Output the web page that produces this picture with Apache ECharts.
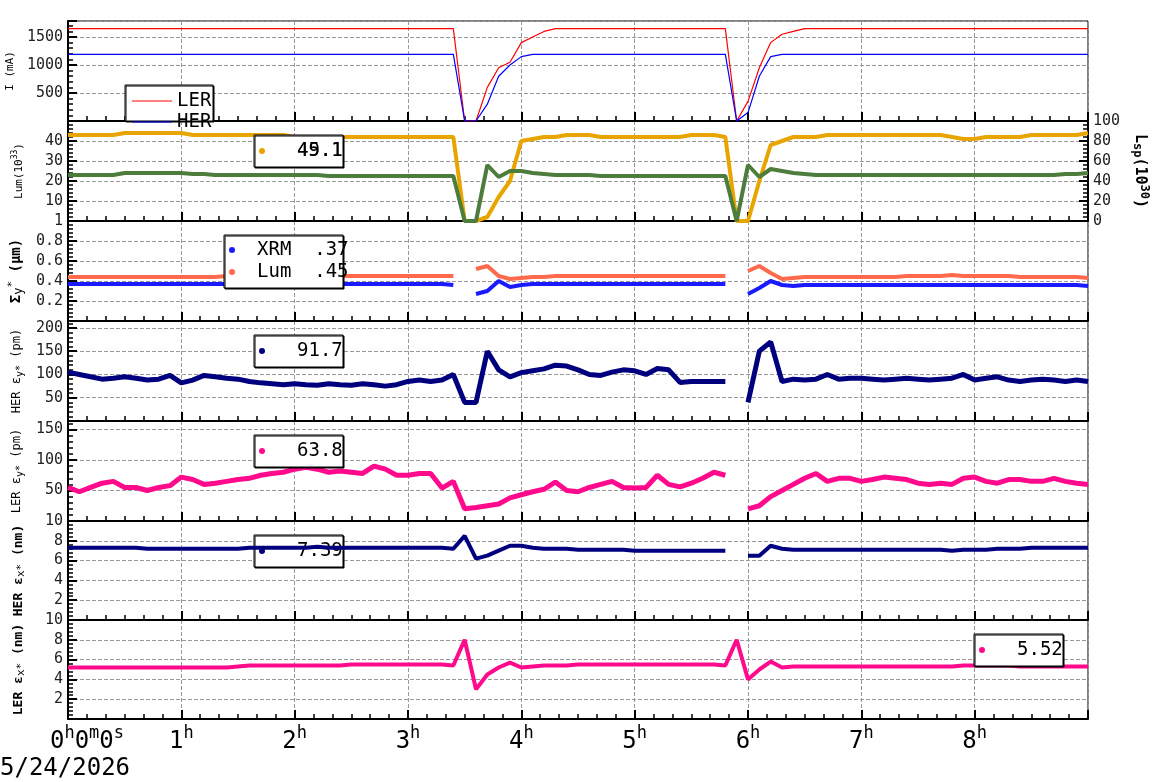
<!DOCTYPE html>
<html>
<head>
<meta charset="utf-8">
<script src="https://cdn.jsdelivr.net/npm/echarts@6/dist/echarts.min.js"></script>
<style>
  html, body { margin: 0; padding: 0; background: #fff; }
  #chart { width: 1160px; height: 782px; }
</style>
</head>
<body>
<div id="chart"></div>
<script>
// time grid, hours from start, one sample every 0.1 h
var hours = Array.from({length: 91}, function (_, i) { return i / 10; });

// beam currents (mA)
var lerCurrent = [
  1650,1650,1650,1650,1650,1650,1650,1650,1650,1650,
  1650,1650,1650,1650,1650,1650,1650,1650,1650,1650,
  1650,1650,1650,1650,1650,1650,1650,1650,1650,1650,
  1650,1650,1650,1650,1650,0,0,600,950,1050,
  1400,1500,1600,1650,1650,1650,1650,1650,1650,1650,
  1650,1650,1650,1650,1650,1650,1650,1650,1650,0,
  350,950,1400,1550,1600,1650,1650,1650,1650,1650,
  1650,1650,1650,1650,1650,1650,1650,1650,1650,1650,
  1650,1650,1650,1650,1650,1650,1650,1650,1650,1650,
  1650];
var herCurrent = [
  1190,1190,1190,1190,1190,1190,1190,1190,1190,1190,
  1190,1190,1190,1190,1190,1190,1190,1190,1190,1190,
  1190,1190,1190,1190,1190,1190,1190,1190,1190,1190,
  1190,1190,1190,1190,1190,0,0,300,800,1000,
  1150,1190,1190,1190,1190,1190,1190,1190,1190,1190,
  1190,1190,1190,1190,1190,1190,1190,1190,1190,0,
  150,800,1150,1190,1190,1190,1190,1190,1190,1190,
  1190,1190,1190,1190,1190,1190,1190,1190,1190,1190,
  1190,1190,1190,1190,1190,1190,1190,1190,1190,1190,
  1190];

// luminosity (1e33) and specific luminosity drawn on the left scale
var lum = [
  43,43,43,43,43,44,44,44,44,44,
  44,43,43,43,43,43,43,43,43,43,
  42,42,42,42,42,42,42,42,42,42,
  42,42,42,42,42,0,0,2,12,20,
  40,41,42,42,43,43,43,42,42,42,
  42,42,42,42,42,43,43,43,42,0,
  0,20,38,40,42,42,42,43,43,43,
  43,43,43,43,43,43,43,43,42,41,
  41,42,42,42,42,43,43,43,43,43,
  44];
var lsp = [
  23,23,23,23,23,24,24,24,24,24,
  24,23.5,23.5,23,23,23,23,23,23,23,
  23,23,23,22.5,22.5,22.5,22.5,22.5,22.5,22.5,
  22.5,22.5,22.5,22.5,22.5,0,0,28,22,25,
  25,24,23.5,23,23,23,23,22.5,22.5,22.5,
  22.5,22.5,22.5,22.5,22.5,22.5,22.5,22.5,22.5,0,
  28,22,26,25,24,23.5,23,23,23,23,
  23,23,23,23,23,23,23,23,23,23,
  23,23,23,23,23,23,23,23,23.5,23.5,
  24];

// vertical beam size (um)
var sigXrm = [
  .37,.37,.37,.37,.37,.37,.37,.37,.37,.37,
  .37,.37,.37,.37,.37,.37,.37,.37,.37,.37,
  .37,.37,.37,.37,.37,.37,.37,.37,.37,.37,
  .37,.37,.37,.37,.36,null,.27,.30,.40,.34,
  .36,.37,.37,.37,.37,.37,.37,.37,.37,.37,
  .37,.37,.37,.37,.37,.37,.37,.37,.37,null,
  .27,.33,.40,.36,.35,.36,.36,.36,.36,.36,
  .36,.36,.36,.36,.36,.36,.36,.36,.36,.36,
  .36,.36,.36,.36,.36,.36,.36,.36,.36,.36,
  .35];
var sigLum = [
  .44,.44,.44,.44,.44,.44,.44,.44,.44,.44,
  .44,.44,.44,.44,.45,.45,.45,.45,.45,.45,
  .45,.45,.45,.45,.45,.45,.45,.45,.45,.45,
  .45,.45,.45,.45,.45,null,.52,.55,.45,.42,
  .43,.44,.44,.45,.45,.45,.45,.45,.45,.45,
  .45,.45,.45,.45,.45,.45,.45,.45,.45,null,
  .50,.55,.48,.42,.43,.44,.44,.44,.44,.44,
  .44,.44,.44,.44,.45,.45,.45,.45,.46,.45,
  .45,.45,.45,.45,.44,.44,.44,.44,.44,.44,
  .43];

// vertical emittance (pm)
var herEy = [
  105,100,95,90,92,95,92,88,90,98,
  82,88,98,95,92,90,85,82,80,78,
  80,78,77,80,78,77,80,78,75,78,
  85,88,85,88,100,40,40,150,110,95,
  104,108,112,120,118,110,100,98,105,110,
  108,100,113,110,83,85,85,85,85,null,
  40,150,170,85,90,88,90,100,90,92,
  92,90,88,90,92,90,88,90,92,100,
  88,92,95,88,85,88,90,88,85,88,
  85];
var lerEy = [
  55,48,55,62,65,55,55,50,55,58,
  72,68,60,62,65,68,70,75,78,80,
  85,88,85,80,82,80,78,90,85,75,
  75,78,78,54,65,20,22,25,28,38,
  43,48,52,64,50,48,55,60,65,55,
  54,55,75,60,56,62,70,80,75,null,
  20,25,40,50,60,70,78,65,70,70,
  65,68,72,70,68,62,60,62,60,70,
  72,65,62,68,68,65,65,70,65,62,
  60];

// horizontal emittance (nm)
var herEx = [
  7.3,7.3,7.3,7.3,7.3,7.3,7.3,7.2,7.2,7.2,
  7.2,7.2,7.2,7.2,7.2,7.2,7.3,7.3,7.3,7.3,
  7.3,7.3,7.4,7.3,7.3,7.3,7.3,7.3,7.3,7.3,
  7.3,7.3,7.3,7.3,7.2,8.5,6.2,6.5,7.0,7.5,
  7.5,7.3,7.2,7.2,7.2,7.1,7.1,7.1,7.1,7.1,
  7.0,7.0,7.0,7.0,7.0,7.0,7.0,7.0,7.0,null,
  6.5,6.5,7.5,7.2,7.1,7.1,7.1,7.1,7.1,7.1,
  7.1,7.1,7.1,7.1,7.1,7.1,7.1,7.1,7.0,7.1,
  7.1,7.1,7.2,7.2,7.2,7.3,7.3,7.3,7.3,7.3,
  7.3];
var lerEx = [
  5.2,5.2,5.2,5.2,5.2,5.2,5.2,5.2,5.2,5.2,
  5.2,5.2,5.2,5.2,5.2,5.3,5.4,5.4,5.4,5.4,
  5.4,5.4,5.4,5.4,5.4,5.5,5.5,5.5,5.5,5.5,
  5.5,5.5,5.5,5.5,5.4,8.0,3.0,4.5,5.2,5.7,
  5.2,5.3,5.4,5.4,5.4,5.5,5.5,5.5,5.5,5.5,
  5.5,5.5,5.5,5.5,5.5,5.5,5.5,5.5,5.4,8.0,
  4.0,5.0,5.8,5.2,5.3,5.3,5.3,5.3,5.3,5.3,
  5.3,5.3,5.3,5.3,5.3,5.3,5.3,5.3,5.3,5.4,
  5.4,5.4,5.4,5.4,5.3,5.3,5.3,5.3,5.3,5.3,
  5.3];

var mono = 'DejaVu Sans Mono';
var panels = [
  {top: 21,  h: 100, min: 0, max: 1786, step: 500, name: 'I (mA)', nameSize: 11, showMax: false},
  {top: 121, h: 100, min: 0, max: 50, step: 10, name: '{n|Lum(10}{sup|33}{n|)}', nameSize: 11, showMax: false},
  {top: 221, h: 100, min: 0, max: 1, step: 0.2, name: '{b|Σ}{sub|y}{sup|*}{b| (μm)}', nameSize: 14, showMax: true},
  {top: 321, h: 100, min: 0, max: 215, step: 50, name: '{n|HER ε}{sub|y*}{n| (pm)}', nameSize: 12, showMax: false},
  {top: 421, h: 100, min: 0, max: 164, step: 50, name: '{n|LER ε}{sub|y*}{n| (pm)}', nameSize: 12, showMax: false},
  {top: 521, h: 99,  min: 0, max: 10, step: 2, name: '{b|HER ε}{sub|x*}{b| (nm)}', nameSize: 13, showMax: true},
  {top: 620, h: 99,  min: 0, max: 10, step: 2, name: '{b|LER ε}{sub|x*}{b| (nm)}', nameSize: 13, showMax: true}
];

var grids = [], xAxes = [], yAxes = [];
panels.forEach(function (p, i) {
  var last = i === panels.length - 1;
  grids.push({left: 68, right: 72, top: p.top, height: p.h, show: true, borderColor: '#000', borderWidth: 1,
    containLabel: false, outerBoundsMode: 'none'});
  xAxes.push({
    gridIndex: i, type: 'value', min: 0, max: 9, interval: 1,
    axisLine: {show: true, lineStyle: {color: '#000', width: 2}},
    axisTick: {inside: true, length: 9, lineStyle: {color: '#000', width: 2}},
    minorTick: {show: true, splitNumber: 6, length: 5, lineStyle: {color: '#000', width: 1.5}},
    splitLine: {show: true, lineStyle: {color: '#999', type: 'dashed'}},
    axisLabel: {
      show: last, showMaxLabel: false, margin: 6, fontFamily: mono, fontSize: 24, color: '#000',
      formatter: function (v) {
        if (v === 0) return '{p|}{b|0}{s|h}{b|0}{s|m}{b|0}{s|s}';
        return '{b|' + v + '}{s|h}';
      },
      rich: {
        p: {width: 38},
        b: {fontFamily: mono, fontSize: 24, color: '#000', verticalAlign: 'bottom'},
        s: {fontFamily: mono, fontSize: 17, color: '#000', verticalAlign: 'top', padding: [0, 0, 12, 0]}
      }
    }
  });
  var nr = {
    n: {fontFamily: mono, fontSize: p.nameSize, color: '#000'},
    b: {fontFamily: mono, fontSize: p.nameSize, fontWeight: 'bold', color: '#000'},
    sup: {fontFamily: mono, fontSize: p.nameSize - 3, color: '#000', padding: [0, 0, 8, 0]},
    sub: {fontFamily: mono, fontSize: p.nameSize - 2, color: '#000', padding: [6, 0, 0, 0]}
  };
  yAxes.push({
    gridIndex: i, type: 'value', min: p.min, max: p.max, interval: p.step,
    name: p.name, nameLocation: 'middle', nameGap: 41, nameRotate: 90,
    nameTextStyle: {fontFamily: mono, fontSize: p.nameSize, color: '#000', rich: nr},
    axisLine: {show: true, lineStyle: {color: '#000', width: 2}},
    axisTick: {inside: true, length: 9, lineStyle: {color: '#000', width: 2}},
    minorTick: {show: true, splitNumber: 5, length: 5, lineStyle: {color: '#000', width: 1.5}},
    splitLine: {show: true, lineStyle: {color: '#999', type: 'dashed'}},
    axisLabel: {showMinLabel: false, showMaxLabel: p.showMax, fontFamily: mono, fontSize: 15, color: '#222', margin: 5,
      formatter: function (v) { return String(Math.round(v * 10) / 10); }}
  });
});
// right axis for specific luminosity
yAxes.push({
  gridIndex: 1, type: 'value', position: 'right', min: 0, max: 100, interval: 20,
  name: '{b|L}{sub|sp}{b|(10}{sup|30}{b|)}', nameLocation: 'middle', nameGap: 42, nameRotate: -90,
  nameTextStyle: {rich: {
    b: {fontFamily: mono, fontSize: 15, fontWeight: 'bold', color: '#000'},
    sub: {fontFamily: mono, fontSize: 12, fontWeight: 'bold', color: '#000', padding: [6, 0, 0, 0]},
    sup: {fontFamily: mono, fontSize: 12, fontWeight: 'bold', color: '#000', padding: [0, 0, 8, 0]}
  }},
  axisLine: {show: true, lineStyle: {color: '#000', width: 2}},
  axisTick: {inside: true, length: 9, lineStyle: {color: '#000', width: 2}},
  minorTick: {show: true, splitNumber: 5, length: 5, lineStyle: {color: '#000', width: 1.5}},
  splitLine: {show: false},
  axisLabel: {fontFamily: mono, fontSize: 15, color: '#222', margin: 5}
});

function pairs(vals) {
  return hours.map(function (t, i) { return [t, vals[i]]; });
}
function band(name, g, yi, vals, color, w) {
  return {
    name: name, type: 'line', xAxisIndex: g, yAxisIndex: yi, data: pairs(vals),
    showSymbol: false, connectNulls: false, silent: true,
    lineStyle: {color: color, width: w}, z: 3
  };
}

var series = [
  band('LER', 0, 0, lerCurrent, '#ff0000', 1.2),
  band('HER', 0, 0, herCurrent, '#0000ff', 1.2),
  band('Lum', 1, 1, lum, '#e8a500', 4),
  band('Lsp', 1, 1, lsp, '#4c7d3c', 4),
  band('XRM', 2, 2, sigXrm, '#1a1aff', 4),
  band('LumSize', 2, 2, sigLum, '#ff6a4d', 4),
  band('HERey', 3, 3, herEy, '#00007f', 5),
  band('LERey', 4, 4, lerEy, '#ff0a8c', 5),
  band('HERex', 5, 5, herEx, '#00007f', 4),
  band('LERex', 6, 6, lerEx, '#ff0a8c', 4)
];

function box(x, y, w, h, z) {
  return {type: 'rect', shape: {x: x, y: y, width: w, height: h}, z: z,
    style: {fill: '#fff', stroke: '#000', lineWidth: 1, shadowColor: '#000', shadowOffsetX: 1, shadowOffsetY: 1, shadowBlur: 0}};
}
function txt(x, y, s, z) {
  return {type: 'text', x: x, y: y, z: z, style: {text: s, fontFamily: mono, fontSize: 19, fill: '#000', textVerticalAlign: 'middle'}};
}
function dot(x, y, c, z) {
  return {type: 'circle', shape: {cx: x, cy: y, r: 3}, z: z, style: {fill: c}};
}
function seg(x1, x2, y, c, z) {
  return {type: 'line', shape: {x1: x1, y1: y, x2: x2, y2: y}, z: z, style: {stroke: c, lineWidth: 1}};
}

var graphics = [
  box(125, 85, 88, 36, 20), seg(132, 172, 101, '#ff0000', 21), txt(177, 101, 'LER', 21),
  seg(132, 172, 122, '#0000ff', 21), txt(177, 122, 'HER', 21),
  box(254, 135, 89, 32, 20), dot(262, 151, '#e8a500', 21), txt(297, 151, '45.1', 21), txt(297, 151, '49.1', 21),
  box(224, 235, 119, 53, 20), dot(232, 250, '#1a1aff', 21), txt(257, 250, 'XRM  .37', 21),
  dot(232, 272, '#ff6a4d', 21), txt(257, 272, 'Lum  .45', 21),
  box(254, 335, 89, 32, 20), dot(262, 351, '#00007f', 21), txt(297, 351, '91.7', 21),
  box(254, 435, 89, 32, 20), dot(262, 451, '#ff0a8c', 21), txt(297, 451, '63.8', 21),
  box(254, 535, 89, 32, 1), dot(262, 551, '#00007f', 1), txt(297, 551, '7.39', 1),
  box(974, 634, 89, 32, 20), dot(982, 650, '#ff0a8c', 21), txt(1017, 650, '5.52', 21),
  {type: 'text', x: 0, y: 757, style: {text: '5/24/2026', fontFamily: mono, fontSize: 24, fill: '#000'}}
];

var chart = echarts.init(document.getElementById('chart'));
chart.setOption({
  backgroundColor: '#fff',
  animation: false,
  grid: grids,
  xAxis: xAxes,
  yAxis: yAxes,
  series: series,
  graphic: graphics
});
</script>
</body>
</html>
